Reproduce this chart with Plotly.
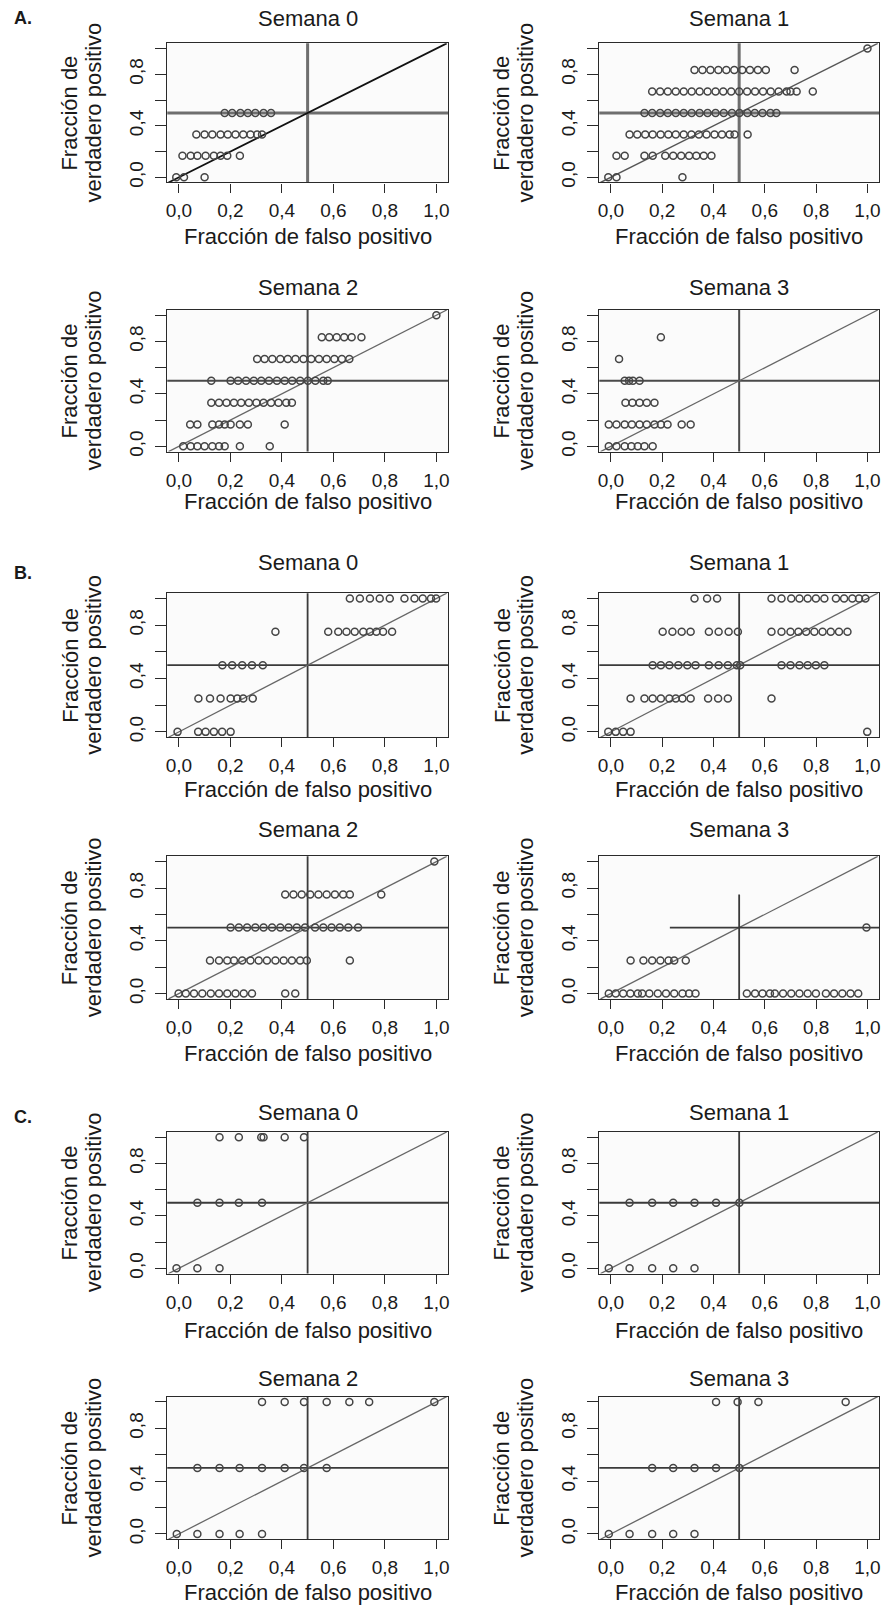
import plotly.graph_objects as go

W, H = 886, 1611
FONT = "Liberation Sans"
TXT = "#1a1a1a"

# ---------------- DATA (fracción de falso positivo grouped by verdadero-positivo level) ----------------
# Section A (levels in sixths)
A_S0_tpr = [0.0, 0.167, 0.333, 0.5]
A_S0_fpr = [
    [-0.01, 0.02, 0.10],
    [0.014, 0.046, 0.072, 0.104, 0.136, 0.162, 0.188, 0.237],
    [0.068, 0.100, 0.130, 0.162, 0.190, 0.220, 0.250, 0.278, 0.304, 0.323],
    [0.178, 0.207, 0.239, 0.268, 0.297, 0.329, 0.358],
]
A_S1_tpr = [0.0, 0.167, 0.333, 0.5, 0.667, 0.833, 1.0]
A_S1_fpr = [
    [-0.01, 0.022, 0.279],
    [0.022, 0.054, 0.131, 0.163, 0.212, 0.243, 0.274, 0.305, 0.333, 0.362, 0.392],
    [0.073, 0.103, 0.134, 0.163, 0.194, 0.224, 0.253, 0.284, 0.314, 0.343, 0.373, 0.404, 0.433, 0.463, 0.482, 0.533],
    [0.131, 0.161, 0.192, 0.222, 0.253, 0.284, 0.315, 0.346, 0.377, 0.408, 0.440, 0.472, 0.501, 0.532, 0.561, 0.591, 0.622, 0.645],
    [0.161, 0.192, 0.222, 0.253, 0.284, 0.315, 0.346, 0.377, 0.408, 0.438, 0.469, 0.500, 0.531, 0.562, 0.593, 0.623, 0.654, 0.685, 0.700, 0.724, 0.787],
    [0.326, 0.357, 0.388, 0.419, 0.450, 0.481, 0.512, 0.542, 0.573, 0.604, 0.716],
    [1.0],
]
A_S2_tpr = [0.0, 0.167, 0.333, 0.5, 0.667, 0.833, 1.0]
A_S2_fpr = [
    [0.017, 0.046, 0.072, 0.100, 0.130, 0.156, 0.178, 0.237, 0.353],
    [0.044, 0.072, 0.130, 0.156, 0.178, 0.201, 0.237, 0.268, 0.411],
    [0.126, 0.156, 0.185, 0.214, 0.242, 0.272, 0.301, 0.329, 0.358, 0.387, 0.417, 0.439],
    [0.126, 0.201, 0.230, 0.261, 0.291, 0.320, 0.350, 0.381, 0.411, 0.440, 0.471, 0.501, 0.530, 0.561, 0.578],
    [0.304, 0.333, 0.363, 0.394, 0.423, 0.453, 0.484, 0.514, 0.544, 0.574, 0.604, 0.633, 0.662],
    [0.555, 0.584, 0.613, 0.642, 0.671, 0.709],
    [1.0],
]
A_S3_tpr = [0.0, 0.167, 0.333, 0.5, 0.667, 0.833]
A_S3_fpr = [
    [-0.008, 0.022, 0.054, 0.080, 0.105, 0.131, 0.163],
    [-0.008, 0.022, 0.054, 0.082, 0.112, 0.140, 0.170, 0.195, 0.221, 0.276, 0.311],
    [0.057, 0.084, 0.112, 0.140, 0.170],
    [0.054, 0.071, 0.086, 0.112],
    [0.032],
    [0.195],
]
# Section B (levels in quarters)
B_S0_tpr = [0.0, 0.25, 0.5, 0.75, 1.0]
B_S0_fpr = [
    [-0.005, 0.075, 0.104, 0.136, 0.168, 0.201],
    [0.076, 0.121, 0.162, 0.201, 0.227, 0.250, 0.287],
    [0.169, 0.207, 0.246, 0.284, 0.326],
    [0.375, 0.580, 0.619, 0.651, 0.683, 0.716, 0.742, 0.767, 0.793, 0.828],
    [0.664, 0.703, 0.742, 0.780, 0.819, 0.876, 0.915, 0.947, 0.979, 0.999],
]
B_S1_tpr = [0.0, 0.25, 0.5, 0.75, 1.0]
B_S1_fpr = [
    [-0.01, 0.019, 0.048, 0.077, 0.999],
    [0.077, 0.131, 0.163, 0.195, 0.228, 0.253, 0.279, 0.311, 0.379, 0.418, 0.456, 0.626],
    [0.163, 0.195, 0.228, 0.263, 0.298, 0.330, 0.382, 0.420, 0.456, 0.491, 0.504, 0.665, 0.700, 0.735, 0.767, 0.799, 0.832],
    [0.202, 0.240, 0.276, 0.311, 0.382, 0.420, 0.459, 0.495, 0.626, 0.665, 0.700, 0.731, 0.761, 0.793, 0.825, 0.857, 0.889, 0.922],
    [0.326, 0.375, 0.414, 0.626, 0.665, 0.703, 0.735, 0.767, 0.799, 0.832, 0.877, 0.909, 0.941, 0.967, 0.992],
]
B_S2_tpr = [0.0, 0.25, 0.5, 0.75, 1.0]
B_S2_fpr = [
    [-0.001, 0.027, 0.059, 0.091, 0.124, 0.156, 0.188, 0.220, 0.252, 0.284, 0.413, 0.452],
    [0.121, 0.156, 0.188, 0.214, 0.246, 0.278, 0.310, 0.342, 0.375, 0.407, 0.439, 0.471, 0.497, 0.664],
    [0.201, 0.233, 0.265, 0.297, 0.329, 0.362, 0.394, 0.426, 0.458, 0.490, 0.529, 0.561, 0.593, 0.625, 0.658, 0.696],
    [0.413, 0.445, 0.477, 0.510, 0.542, 0.574, 0.606, 0.638, 0.664, 0.786],
    [0.992],
]
B_S3_tpr = [0.0, 0.25, 0.5]
B_S3_fpr = [
    [-0.008, 0.019, 0.048, 0.076, 0.105, 0.122, 0.150, 0.183, 0.215, 0.247, 0.279, 0.305, 0.330,
     0.530, 0.562, 0.591, 0.620, 0.639, 0.671, 0.703, 0.735, 0.767, 0.799, 0.838, 0.870, 0.902, 0.934, 0.964],
    [0.077, 0.127, 0.161, 0.193, 0.225, 0.247, 0.292],
    [0.996],
]
# Section C (levels in halves)
C_S0_tpr = [0.0, 0.5, 1.0]
C_S0_fpr = [
    [-0.009, 0.072, 0.158],
    [0.072, 0.158, 0.233, 0.323],
    [0.158, 0.233, 0.320, 0.329, 0.411, 0.486],
]
C_S1_tpr = [0.0, 0.5]
C_S1_fpr = [
    [-0.008, 0.073, 0.161, 0.243, 0.326],
    [0.073, 0.161, 0.243, 0.326, 0.410, 0.501],
]
C_S2_tpr = [0.0, 0.5, 1.0]
C_S2_fpr = [
    [-0.008, 0.072, 0.158, 0.236, 0.323],
    [0.072, 0.158, 0.236, 0.323, 0.411, 0.486, 0.574],
    [0.323, 0.411, 0.486, 0.574, 0.662, 0.739, 0.992],
]
C_S3_tpr = [0.0, 0.5, 1.0]
C_S3_fpr = [
    [-0.008, 0.073, 0.161, 0.243, 0.326],
    [0.161, 0.243, 0.326, 0.410, 0.501],
    [0.410, 0.494, 0.575, 0.915],
]

PANEL_TITLES = ["Semana 0", "Semana 1", "Semana 2", "Semana 3"]
SECTIONS = ["A.", "B.", "C."]
PANELS = [
    (A_S0_tpr, A_S0_fpr), (A_S1_tpr, A_S1_fpr), (A_S2_tpr, A_S2_fpr), (A_S3_tpr, A_S3_fpr),
    (B_S0_tpr, B_S0_fpr), (B_S1_tpr, B_S1_fpr), (B_S2_tpr, B_S2_fpr), (B_S3_tpr, B_S3_fpr),
    (C_S0_tpr, C_S0_fpr), (C_S1_tpr, C_S1_fpr), (C_S2_tpr, C_S2_fpr), (C_S3_tpr, C_S3_fpr),
]
X_TICKS = [0.0, 0.2, 0.4, 0.6, 0.8, 1.0]
X_TICKTEXT = ["0,0", "0,2", "0,4", "0,6", "0,8", "1,0"]
Y_TICKTEXT = ["0,0", "", "0,4", "", "0,8", ""]
X_TITLE = "Fracción de falso positivo"
Y_TITLE_1 = "Fracción de"
Y_TITLE_2 = "verdadero positivo"

CUT_FPR = 0.5   # vertical reference line
CUT_TPR = 0.5   # horizontal reference line
B_S3_VLINE_TOP = 0.75
B_S3_HLINE_START = 0.23

# ---------------- LAYOUT GEOMETRY (pixels) ----------------
COL_L = [166, 600]
COL_R = [448, 881]
ROW_T = [43.5, 311, 595, 859, 1135.5, 1401]
ROW_B = [183, 453, 739.5, 1002, 1277.5, 1544]
TITLE_Y = [19, 288, 564, 832, 1116, 1383]
XTITLE_OFF = [54, 50, 52, 55, 57, 53]
SECTION_Y = [18, 575, 1120]
XR = [-0.045, 1.045]
YR = [-0.04, 1.04]


def px(x):
    return x / W


def py(y):
    return 1 - y / H


fig = go.Figure()
shapes = []
annotations = []

for i, (tpr_levels, fpr_groups) in enumerate(PANELS):
    r, c = divmod(i, 2)
    n = i + 1
    xa = "x" if n == 1 else f"x{n}"
    ya = "y" if n == 1 else f"y{n}"
    xs, ys = [], []
    for lvl, grp in zip(tpr_levels, fpr_groups):
        xs += grp
        ys += [lvl] * len(grp)

    section = r // 2
    if section == 0 and r == 0:
        cross_col, cross_w, diag_col, diag_w = "#6e6e6e", 3.0, "#555555", 1.4
    elif section == 0:
        cross_col, cross_w, diag_col, diag_w = "#4a4a4a", 2.0, "#666666", 1.3
    else:
        cross_col, cross_w, diag_col, diag_w = "#3a3a3a", 1.8, "#666666", 1.3
    if i == 0:
        diag_col, diag_w = "#111111", 1.8

    # diagonal (chance line)
    shapes.append(dict(type="line", xref=xa, yref=ya, x0=YR[0], y0=YR[0], x1=YR[1], y1=YR[1],
                       line=dict(color=diag_col, width=diag_w), layer="below"))
    if i == 7:
        shapes.append(dict(type="line", xref=xa, yref=ya, x0=CUT_FPR, x1=CUT_FPR,
                           y0=YR[0], y1=B_S3_VLINE_TOP, line=dict(color=cross_col, width=cross_w), layer="below"))
        shapes.append(dict(type="line", xref=xa, yref=ya, x0=B_S3_HLINE_START, x1=XR[1],
                           y0=CUT_TPR, y1=CUT_TPR, line=dict(color=cross_col, width=cross_w), layer="below"))
    else:
        shapes.append(dict(type="line", xref=xa, yref=f"{ya} domain", x0=CUT_FPR, x1=CUT_FPR,
                           y0=0, y1=1, line=dict(color=cross_col, width=cross_w), layer="below"))
        shapes.append(dict(type="line", xref=f"{xa} domain", yref=ya, x0=0, x1=1,
                           y0=CUT_TPR, y1=CUT_TPR, line=dict(color=cross_col, width=cross_w), layer="below"))

    fig.add_trace(go.Scatter(
        x=xs, y=ys, mode="markers", xaxis=xa, yaxis=ya, showlegend=False,
        marker=dict(symbol="circle-open", size=7, color="#454545", line=dict(width=1.5, color="#454545")),
        hoverinfo="x+y",
    ))

    axis_common = dict(
        showgrid=False, zeroline=False, showline=True, mirror=True,
        linecolor="#2a2a2a", linewidth=1.4, ticks="outside", tickcolor="#2a2a2a",
        tickwidth=1.2, tickfont=dict(family=FONT, size=19, color=TXT),
        tickvals=X_TICKS,
    )
    xdom = [px(COL_L[c]), px(COL_R[c])]
    ydom = [py(ROW_B[r]), py(ROW_T[r])]
    fig.layout[f"xaxis{'' if n == 1 else n}"] = dict(
        axis_common, domain=xdom, range=XR, anchor=ya, ticktext=X_TICKTEXT,
        ticklen=9, ticklabelstandoff=2,
    )
    fig.layout[f"yaxis{'' if n == 1 else n}"] = dict(
        axis_common, domain=ydom, range=YR, anchor=xa, ticktext=Y_TICKTEXT,
        ticklen=11, tickangle=-90, ticklabelstandoff=4,
    )

    # panel title
    cx = (COL_L[c] + COL_R[c]) / 2
    annotations.append(dict(text=PANEL_TITLES[(r % 2) * 2 + c], x=px(cx), y=py(TITLE_Y[r]),
                            xref="paper", yref="paper", showarrow=False, xanchor="center", yanchor="middle",
                            font=dict(family=FONT, size=22, color=TXT)))
    # x axis title
    annotations.append(dict(text=X_TITLE, x=px(cx), y=py(ROW_B[r] + XTITLE_OFF[r]),
                            xref="paper", yref="paper", showarrow=False, xanchor="center", yanchor="middle",
                            font=dict(family=FONT, size=22, color=TXT)))
    # y axis title (two lines)
    cy = (ROW_T[r] + ROW_B[r]) / 2
    for txt, off in ((Y_TITLE_1, 98), (Y_TITLE_2, 74)):
        annotations.append(dict(text=txt, x=px(COL_L[c] - off), y=py(cy), textangle=-90,
                                xref="paper", yref="paper", showarrow=False, xanchor="center", yanchor="middle",
                                font=dict(family=FONT, size=22, color=TXT)))

for s, label in enumerate(SECTIONS):
    annotations.append(dict(text=f"<b>{label}</b>", x=px(21), y=py(SECTION_Y[s]),
                            xref="paper", yref="paper", showarrow=False, xanchor="center", yanchor="middle",
                            font=dict(family=FONT, size=18, color=TXT)))

fig.update_layout(
    width=W, height=H, margin=dict(l=0, r=0, t=0, b=0),
    paper_bgcolor="white", plot_bgcolor="#fbfbfb",
    shapes=shapes, annotations=annotations, showlegend=False,
)

fig.write_html("out.html", config={"displayModeBar": False},
               post_script="document.body.style.margin='0';document.body.style.overflow='hidden';")
